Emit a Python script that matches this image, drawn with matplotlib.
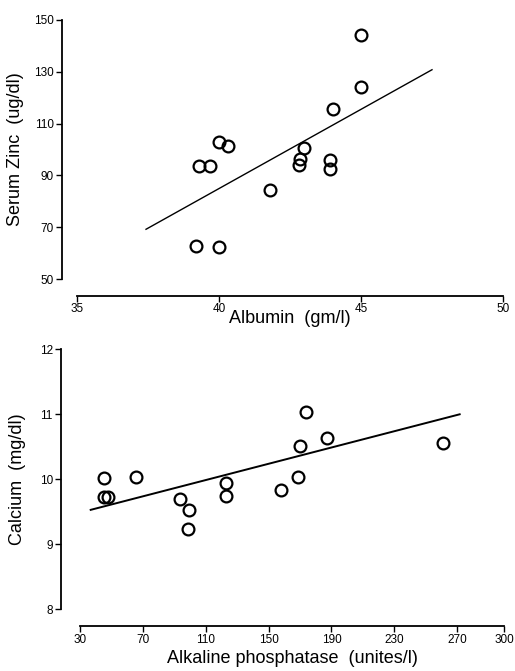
import matplotlib
matplotlib.use('Agg')
import matplotlib.pyplot as plt

plt.rcParams['font.family'] = ['Liberation Sans', 'DejaVu Sans']

# top panel: albumin vs serum zinc
albumin = [45.0, 45.0, 44.0, 40.0, 40.3, 39.3, 39.7, 43.0, 42.85, 42.8, 43.9, 43.9, 41.8, 39.2, 40.0]
zinc = [144.2, 124.0, 115.5, 103.0, 101.4, 93.8, 93.8, 100.6, 96.4, 94.1, 96.0, 92.5, 84.2, 62.6, 62.5]
zinc_fit_x = [37.43, 47.5]
zinc_fit_y = [69.2, 130.8]
alb_ticks = [35, 40, 45, 50]
zinc_ticks = [50, 70, 90, 110, 130, 150]

# bottom panel: alkaline phosphatase vs calcium
alp = [45.5, 45.0, 47.6, 65.7, 93.9, 99.2, 98.5, 123.0, 122.6, 157.6, 168.6, 170.3, 173.9, 187.1, 260.8]
calcium = [10.02, 9.73, 9.73, 10.04, 9.69, 9.53, 9.23, 9.94, 9.74, 9.84, 10.03, 10.52, 11.03, 10.64, 10.56]
ca_fit_x = [36.8, 271.6]
ca_fit_y = [9.53, 11.0]
alp_ticks = [30, 70, 110, 150, 190, 230, 270, 300]
ca_ticks = [8, 9, 10, 11, 12]

W, H = 515, 671
fig = plt.figure(figsize=(W / 100, H / 100), dpi=100)


def box(x0, x1, ytop, ybot):
    return [x0 / W, 1 - ybot / H, (x1 - x0) / W, (ybot - ytop) / H]


def style(ax, left_off, bottom_off):
    for s in ['top', 'right']:
        ax.spines[s].set_visible(False)
    ax.spines['left'].set_position(('outward', left_off))
    ax.spines['bottom'].set_position(('outward', bottom_off))
    for s in ['left', 'bottom']:
        ax.spines[s].set_linewidth(1.3)
    ax.tick_params(direction='out', length=4, width=1, labelsize=8.5, pad=1.5)


ax1 = fig.add_axes(box(77, 503, 20, 279))
ax1.plot(albumin, zinc, 'o', ms=8.5, mfc='none', mec='black', mew=1.6)
ax1.plot(zinc_fit_x, zinc_fit_y, color='black', lw=1)
ax1.set_xlim(35, 50)
ax1.set_ylim(50, 150)
ax1.set_xticks(alb_ticks)
ax1.set_yticks(zinc_ticks)
style(ax1, 11, 12)
ax1.set_xlabel('Albumin  (gm/l)', fontsize=13, labelpad=-4)
ax1.set_ylabel('Serum Zinc  (ug/dl)', fontsize=13, labelpad=7)

ax2 = fig.add_axes(box(80, 504.3, 349.3, 609.3))
ax2.plot(alp, calcium, 'o', ms=8.5, mfc='none', mec='black', mew=1.6)
ax2.plot(ca_fit_x, ca_fit_y, color='black', lw=1.4)
ax2.set_xlim(30, 300)
ax2.set_ylim(8, 12)
ax2.set_xticks(alp_ticks)
ax2.set_yticks(ca_ticks)
style(ax2, 14, 12)
ax2.set_xlabel('Alkaline phosphatase  (unites/l)', fontsize=13, labelpad=3)
ax2.set_ylabel('Calcium  (mg/dl)', fontsize=13, labelpad=10)

fig.savefig('out.png', dpi=100)
